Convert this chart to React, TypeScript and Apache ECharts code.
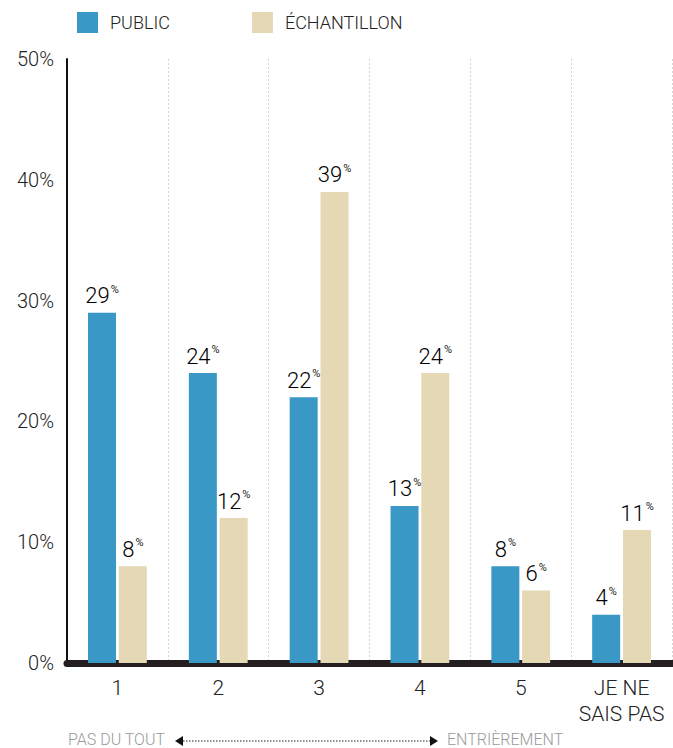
import React, { useEffect, useRef } from "react";
import * as echarts from "echarts";

const categories = ["1", "2", "3", "4", "5", "JE NE\nSAIS PAS"];
const publicValues = [29, 24, 22, 13, 8, 4];
const sampleValues = [8, 12, 39, 24, 6, 11];
const seriesNames = ["PUBLIC", "ÉCHANTILLON"];
const yTicks = [0, 10, 20, 30, 40, 50];
const scaleLeft = "PAS DU TOUT";
const scaleRight = "ENTRIÈREMENT";

const BLUE = "#3a98c6";
const BEIGE = "#e4d8b5";
const FONT = "Roboto, 'Noto Sans', sans-serif";

const valueLabel = {
  show: true,
  position: "top" as const,
  distance: 5,
  formatter: (p: any) => `{v|${p.value}}{p|%}`,
  rich: {
    v: {
      fontSize: 22,
      color: "#000",
      fontFamily: FONT,
      fontWeight: 300,
      lineHeight: 24,
    },
    p: {
      fontSize: 11,
      color: "#222",
      fontFamily: FONT,
      fontWeight: 400,
      verticalAlign: "top" as const,
      lineHeight: 11,
      padding: [0, 0, 11, 1],
    },
  },
};

export default function App() {
  const ref = useRef<HTMLDivElement>(null);

  useEffect(() => {
    if (!ref.current) return;
    const chart = echarts.init(ref.current, undefined, { renderer: "svg" });
    const arrowY = 741;
    chart.setOption({
      animation: false,
      textStyle: { fontFamily: FONT },
      legend: {
        left: 77,
        top: 12,
        padding: 0,
        itemWidth: 21,
        itemHeight: 21,
        itemGap: 82,
        icon: "rect",
        data: seriesNames,
        textStyle: {
          fontSize: 18,
          color: "#222",
          fontFamily: FONT,
          fontWeight: 300,
          padding: [0, 0, 0, 7],
        },
      },
      grid: { left: 67, right: 1, top: 59, bottom: 85, containLabel: false },
      xAxis: {
        type: "category",
        data: categories,
        axisLine: { show: true, lineStyle: { color: "#231f20", width: 7 } },
        axisTick: { show: false },
        splitLine: {
          show: true,
          lineStyle: { color: "#d4d4d4", type: [2, 2], width: 1 },
        },
        axisLabel: {
          fontSize: 21,
          color: "#222",
          fontFamily: FONT,
          fontWeight: 300,
          lineHeight: 26,
          margin: 12,
          interval: 0,
        },
      },
      yAxis: {
        type: "value",
        min: 0,
        max: 50,
        interval: 10,
        axisLine: { show: true, lineStyle: { color: "#111", width: 2 } },
        axisTick: { show: false },
        splitLine: { show: false },
        axisLabel: {
          fontSize: 20,
          color: "#222",
          fontFamily: FONT,
          fontWeight: 300,
          margin: 13,
          formatter: (v: number) => (yTicks.includes(v) ? `${v}%` : ""),
        },
      },
      series: [
        {
          name: seriesNames[0],
          type: "bar",
          data: publicValues,
          barWidth: 28,
          barGap: "10%",
          itemStyle: { color: BLUE },
          label: valueLabel,
        },
        {
          name: seriesNames[1],
          type: "bar",
          data: sampleValues,
          barWidth: 28,
          barGap: "10%",
          itemStyle: { color: BEIGE },
          label: valueLabel,
        },
      ],
      graphic: [
        {
          type: "text",
          left: 68,
          top: arrowY - 10,
          style: {
            text: scaleLeft,
            fontSize: 16,
            fill: "#9a9a9a",
            fontFamily: FONT,
            fontWeight: 300,
          },
        },
        {
          type: "line",
          shape: { x1: 183, y1: arrowY, x2: 430, y2: arrowY },
          style: { stroke: "#222", lineWidth: 1, lineDash: [1.5, 1.5] },
        },
        {
          type: "polygon",
          shape: { points: [[175, arrowY], [183, arrowY - 5], [183, arrowY + 5]] },
          style: { fill: "#111" },
        },
        {
          type: "polygon",
          shape: { points: [[438, arrowY], [430, arrowY - 5], [430, arrowY + 5]] },
          style: { fill: "#111" },
        },
        {
          type: "text",
          left: 447,
          top: arrowY - 10,
          style: {
            text: scaleRight,
            fontSize: 16,
            fill: "#9a9a9a",
            fontFamily: FONT,
            fontWeight: 300,
          },
        },
      ],
    });
    return () => chart.dispose();
  }, []);

  return (
    <div
      ref={ref}
      style={{ width: 673, height: 748, position: "absolute", left: 0, top: 0 }}
    />
  );
}
